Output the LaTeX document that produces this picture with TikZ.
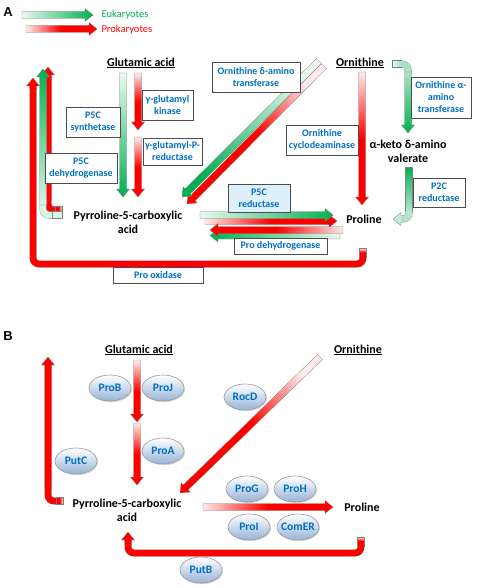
\documentclass[tikz,border=0pt]{standalone}
\usepackage{fontspec}
\setmainfont{Carlito}
\newfontfamily\panelfont{Liberation Sans}
\usetikzlibrary{calc,shapes.geometric,shadows}
\definecolor{enzblue}{RGB}{0,112,192}
\definecolor{eugreen}{RGB}{0,176,80}
\definecolor{boxblue}{RGB}{221,240,251}
\definecolor{genebot}{RGB}{150,180,215}
\newcommand\enzfont{\fontsize{10}{12}\selectfont\bfseries}
\newcommand\genefont{\fontsize{11.5}{12}\selectfont\bfseries}
\newcommand\cmpfont{\fontsize{12}{14}\selectfont\bfseries}
\newcommand\barrow[3][]{%
  \coordinate (bn) at ($(#3)!8pt!(#2)$);
  \path[draw=black!50,line width=.3pt,#1]($(#2)!3.5pt!90:(#3)$)--($(bn)!3.5pt!-90:(#2)$)--($(bn)!6.5pt!-90:(#2)$)--(#3)
    --($(bn)!6.5pt!90:(#2)$)--($(bn)!3.5pt!90:(#2)$)--($(#2)!3.5pt!-90:(#3)$)--cycle;}
\newcommand\bbar[3][]{%
  \path[draw=black!50,line width=.3pt,#1]($(#2)!3.5pt!90:(#3)$)--($(#3)!3.5pt!-90:(#2)$)--($(#3)!3.5pt!90:(#2)$)--($(#2)!3.5pt!-90:(#3)$)--cycle;}
\tikzset{
  redflow/.style={top color=red!8,bottom color=red,middle color=red},
  greenflow/.style={top color=eugreen!8,bottom color=eugreen},
  elbow/.style={draw=black!50,line width=.3pt,double=#1,double distance=6.4pt,rounded corners=6pt},
  enzyme/.style={draw=black!70,line width=.8pt,fill=white,text=enzblue,font=\enzfont,align=center,inner sep=1pt,
    drop shadow={shadow xshift=1.3pt,shadow yshift=-1.3pt,fill=black!35}},
  gene/.style={ellipse,draw=black!40,line width=.6pt,top color=white,bottom color=genebot,text=enzblue,font=\genefont,
    minimum width=42pt,minimum height=26pt,inner sep=-2pt,drop shadow={shadow xshift=1pt,shadow yshift=-1.2pt,fill=black!30}},
  compound/.style={font=\cmpfont,align=center},
  panel/.style={font=\panelfont\bfseries\fontsize{13}{13}\selectfont}
}
\begin{document}
\begin{tikzpicture}[x=1pt,y=-1pt]
\useasboundingbox(0,0)rectangle(477,588);
% panel A
\node[panel](labA)at(8,12){A};
\node[anchor=west,text=eugreen,font=\fontsize{10.5}{12}\selectfont](euk)at(98,15){Eukaryotes};
\node[anchor=west,text=red,font=\fontsize{10.5}{12}\selectfont](prok)at(98,30){Prokaryotes};
\coordinate(ek1)at(22,15);\coordinate(ek2)at(93,15);
\coordinate(pk1)at(26,29);\coordinate(pk2)at(97,29);
\barrow[greenflow,shading angle=90]{ek1}{ek2}
\barrow[redflow,shading angle=90]{pk1}{pk2}
\node[compound](glu1)at(141,63){\underline{Glutamic acid}};
\node[compound](orn1)at(360,63){\underline{Ornithine}};
\node[compound](p5c1)at(128,222){Pyrroline-5-carboxylic\\acid};
\node[compound](pro1)at(364,219){Proline};
\node[compound](keto1)at(408,151){α-keto δ-amino\\valerate};
\coordinate(s1)at(123,73);\coordinate(s2)at(123,197);
\coordinate(k1)at(138,73);\coordinate(k2)at(138,130);
\coordinate(r1)at(138,137);\coordinate(r2)at(138,197);
\barrow[greenflow]{s1}{s2}
\barrow[redflow]{k1}{k2}
\barrow[redflow]{r1}{r2}
\coordinate(dr1)at(324,66);\coordinate(dr2)at(187,204);
\coordinate(dg1)at(319,61);\coordinate(dg2)at(182,197);
\barrow[redflow,shading angle=-45]{dr1}{dr2}
\barrow[greenflow,shading angle=-45]{dg1}{dg2}
\coordinate(oc1)at(362,72);\coordinate(oc2)at(362,205);
\barrow[redflow]{oc1}{oc2}
\coordinate(ng1)at(392,64);\coordinate(ng2)at(401,64);\coordinate(ng3)at(408,72);\coordinate(ng4)at(408,133);
\bbar[top color=eugreen!8,bottom color=eugreen!35,shading angle=90]{ng1}{ng2}
\draw[elbow=eugreen!35](ng2)-|(ng3);
\barrow[top color=eugreen!35,bottom color=eugreen]{ng3}{ng4}
\coordinate(kg1)at(409,167);\coordinate(kg2)at(409,211);\coordinate(kg3)at(403,219);\coordinate(kg4)at(393,219);
\bbar[top color=eugreen,bottom color=eugreen!30]{kg1}{kg2}
\draw[elbow=eugreen!30](kg2)|-(kg3);
\barrow[fill=eugreen!25]{kg3}{kg4}
\coordinate(pr1)at(205,221);\coordinate(pr2)at(337,221);
\coordinate(pg1)at(200,215);\coordinate(pg2)at(333,215);
\barrow[redflow,shading angle=90]{pr1}{pr2}
\barrow[greenflow,shading angle=90]{pg1}{pg2}
\coordinate(hg1)at(340,235.5);\coordinate(hg2)at(210,235.5);
\coordinate(hr1)at(343,230);\coordinate(hr2)at(210,230);
\barrow[greenflow,shading angle=-90]{hg1}{hg2}
\barrow[redflow,shading angle=-90]{hr1}{hr2}
\coordinate(ox1)at(363,248);\coordinate(ox2)at(363,257);\coordinate(ox3)at(33,90);\coordinate(ox4)at(33,78);
\bbar[redflow]{ox1}{ox2}
\draw[elbow=red](ox2)--++(0,7)-|(ox3);
\barrow[fill=red]{ox3}{ox4}
\coordinate(dh1)at(62,210);\coordinate(dh2)at(55,210);\coordinate(dh3)at(48,200);\coordinate(dh4)at(48,67);
\bbar[redflow,shading angle=-90]{dh1}{dh2}
\draw[elbow=red](dh2)-|(dh3);
\barrow[fill=red]{dh3}{dh4}
\coordinate(gh1)at(62,215);\coordinate(gh2)at(52,215);\coordinate(gh3)at(43,205);\coordinate(gh4)at(43,69);
\bbar[fill=eugreen!15]{gh1}{gh2}
\draw[elbow=eugreen!15](gh2)-|(gh3);
\barrow[top color=eugreen!15,bottom color=eugreen,shading angle=180]{gh3}{gh4}
\node[enzyme,minimum width=54pt,minimum height=30pt](synth)at(93,122){P5C\\synthetase};
\node[enzyme,minimum width=51pt,minimum height=30pt](gkin)at(167.5,105){γ-glutamyl\\kinase};
\node[enzyme,minimum width=59pt,minimum height=27pt](gred)at(172.5,151.5){γ-glutamyl-P-\\reductase};
\node[enzyme,minimum width=72pt,minimum height=30pt](pdh)at(81,168){P5C\\dehydrogenase};
\node[enzyme,minimum width=88pt,minimum height=30pt](odat)at(256,77){Ornithine δ-amino\\transferase};
\node[enzyme,minimum width=72pt,minimum height=30pt](ocd)at(322,140){Ornithine\\cyclodeaminase};
\node[enzyme,minimum width=60pt,minimum height=41pt](oaat)at(441,97.5){Ornithine α-\\amino\\transferase};
\node[enzyme,minimum width=52pt,minimum height=29pt](p2cr)at(439,192.5){P2C\\reductase};
\node[enzyme,fill=boxblue,minimum width=62pt,minimum height=28pt](p5cr)at(259,198){P5C\\reductase};
\node[enzyme,minimum width=93pt,minimum height=16pt](prodh)at(280.5,246){Pro dehydrogenase};
\node[enzyme,minimum width=90pt,minimum height=16pt](prox)at(158,275){Pro oxidase};
% panel B
\node[panel](labB)at(8,336){B};
\node[compound](glu2)at(139,350){\underline{Glutamic acid}};
\node[compound](orn2)at(358,350){\underline{Ornithine}};
\node[compound](p5c2)at(127,510){Pyrroline-5-carboxylic\\acid};
\node[compound](pro2)at(362,507){Proline};
\coordinate(b1)at(137,360);\coordinate(b2)at(137,422);
\coordinate(b3)at(137,423);\coordinate(b4)at(137,485);
\barrow[redflow]{b1}{b2}
\barrow[redflow]{b3}{b4}
\coordinate(bd1)at(320,357);\coordinate(bd2)at(180,493);
\barrow[redflow,shading angle=-45]{bd1}{bd2}
\coordinate(bh1)at(203,507);\coordinate(bh2)at(333,507);
\barrow[redflow,shading angle=90]{bh1}{bh2}
\coordinate(pc1)at(63,501);\coordinate(pc2)at(56,501);\coordinate(pc3)at(48,490);\coordinate(pc4)at(48,357);
\bbar[redflow,shading angle=-90]{pc1}{pc2}
\draw[elbow=red](pc2)-|(pc3);
\barrow[fill=red]{pc3}{pc4}
\coordinate(pb1)at(361,537);\coordinate(pb2)at(361,545);\coordinate(pb3)at(128,545);\coordinate(pb4)at(128,532);
\bbar[redflow]{pb1}{pb2}
\draw[elbow=red](pb2)--++(0,8)-|(pb3);
\barrow[fill=red]{pb3}{pb4}
\node[gene](proB)at(110,388){ProB};
\node[gene](proJ)at(163,388){ProJ};
\node[gene](rocD)at(245,397){RocD};
\node[gene](proA)at(163,451){ProA};
\node[gene](putC)at(76,461){PutC};
\node[gene](proG)at(247,489){ProG};
\node[gene](proH)at(295,489){ProH};
\node[gene](proI)at(249,527){ProI};
\node[gene](comER)at(298,527){ComER};
\node[gene](putB)at(201,570){PutB};
\end{tikzpicture}
\end{document}
